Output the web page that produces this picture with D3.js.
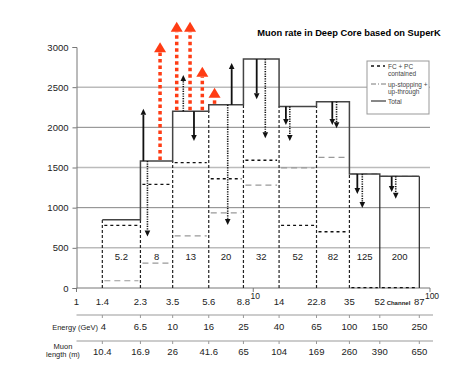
<!DOCTYPE html>
<html>
<head>
<meta charset="utf-8">
<title>Muon rate in Deep Core</title>
<style>
  body { margin: 0; background: #fff; }
  svg { display: block; font-family: "Liberation Sans", Arial, sans-serif; }
</style>
</head>
<body>
<script src="https://d3js.org/d3.v7.min.js"></script>
<script>
const width = 459;
const height = 378;

// bin edges in channel units, bin centre labels
const edges = [1.4, 2.3, 3.5, 5.6, 8.8, 14, 22.8, 35, 52, 87];
const binLabels = ['5.2', '8', '13', '20', '32', '52', '82', '125', '200'];

// series
const total = [850, 1580, 2200, 2280, 2850, 2260, 2320, 1420, 1390];
const contained = [780, 1290, 1560, 1360, 1590, 780, 700, 5, 5];
const upgoing = [90, 310, 650, 935, 1280, 1495, 1625, 1420, 1390];

// extra axis rows
const energyLabels = ['4', '6.5', '10', '16', '25', '40', '65', '100', '150', '250'];
const lengthLabels = ['10.4', '16.9', '26', '41.6', '65', '104', '169', '260', '390', '650'];
const yTicks = [0, 500, 1000, 1500, 2000, 2500, 3000];

// arrows: position (channel), from, to, kind
const arrows = [
  { x: 2.39, from: 1580, to: 2230, kind: 'solid' },
  { x: 2.52, from: 1580, to: 640, kind: 'dotted' },
  { x: 2.97, from: 1580, to: 3058, kind: 'red' },
  { x: 3.69, from: 2200, to: 3315, kind: 'red' },
  { x: 4.02, from: 2200, to: 2650, kind: 'dotted' },
  { x: 4.39, from: 2200, to: 3315, kind: 'red' },
  { x: 4.62, from: 2200, to: 1830, kind: 'solid' },
  { x: 5.15, from: 2200, to: 2755, kind: 'red' },
  { x: 6.04, from: 2280, to: 2493, kind: 'red' },
  { x: 7.17, from: 2280, to: 785, kind: 'dotted' },
  { x: 7.55, from: 2280, to: 2800, kind: 'solid' },
  { x: 10.46, from: 2850, to: 2350, kind: 'solid' },
  { x: 11.7, from: 2850, to: 1865, kind: 'dotted' },
  { x: 15.3, from: 2260, to: 2030, kind: 'solid' },
  { x: 16.1, from: 2260, to: 1830, kind: 'dotted' },
  { x: 28.0, from: 2320, to: 2030, kind: 'solid' },
  { x: 29.6, from: 2320, to: 1990, kind: 'dotted' },
  { x: 38.8, from: 1420, to: 1170, kind: 'solid' },
  { x: 41.4, from: 1420, to: 995, kind: 'dotted' },
  { x: 60.7, from: 1390, to: 1195, kind: 'solid' },
  { x: 64.0, from: 1390, to: 1110, kind: 'dotted' }
];

const x = d3.scaleLog().domain([1, 100]).range([76.5, 430]);
const y = d3.scaleLinear().domain([0, 3000]).range([288, 47]);

const svg = d3.select('body').append('svg')
  .attr('width', width)
  .attr('height', height);

// title
svg.append('text')
  .attr('x', 349).attr('y', 36)
  .attr('text-anchor', 'middle')
  .attr('font-size', 9.3)
  .attr('font-weight', 'bold')
  .text('Muon rate in Deep Core based on SuperK');

// gridlines
svg.append('g').selectAll('line')
  .data(yTicks.filter(d => d > 0 && d < 3000))
  .join('line')
  .attr('x1', x(1)).attr('x2', x(100))
  .attr('y1', d => y(d)).attr('y2', d => y(d))
  .attr('stroke', d => d % 1000 === 500 ? '#bbb' : '#666')
  .attr('stroke-width', d => d % 1000 === 500 ? 1.5 : 0.8);

// y axis
const yAxis = svg.append('g').attr('transform', `translate(${x(1)},0)`)
  .call(d3.axisLeft(y).tickValues(yTicks).tickFormat(d3.format('d')).tickSize(4).tickPadding(4));
yAxis.select('.domain').attr('stroke', '#777');
yAxis.selectAll('.tick line').attr('stroke', '#777');
yAxis.selectAll('text').attr('font-size', 9.5).attr('font-family', 'Liberation Sans, Arial, sans-serif').attr('fill', '#222');

// bottom axis
svg.append('line')
  .attr('x1', x(1)).attr('x2', x(100))
  .attr('y1', y(0)).attr('y2', y(0))
  .attr('stroke', '#777');
svg.append('g').selectAll('line')
  .data([1, 10, 100])
  .join('line')
  .attr('x1', d => x(d)).attr('x2', d => x(d))
  .attr('y1', y(0)).attr('y2', y(0) + 4)
  .attr('stroke', '#777');

const xl = svg.append('g').attr('font-size', 9.5).attr('fill', '#222').attr('text-anchor', 'middle');
xl.append('text').attr('x', x(1)).attr('y', 305).text('1');
xl.selectAll('text.edge')
  .data(edges.slice(0, -1))
  .join('text')
  .attr('class', 'edge')
  .attr('x', d => x(d)).attr('y', 305)
  .text(d => d);
xl.append('text').attr('x', x(10) + 2).attr('y', 299).attr('font-size', 8.5).text('10');
xl.append('text').attr('x', x(100) + 2).attr('y', 299).attr('font-size', 8.5).text('100');
xl.append('text').attr('x', x(87) - 9).attr('y', 305).attr('text-anchor', 'end')
  .attr('font-size', 6).attr('font-weight', 'bold').text('Channel');
xl.append('text').attr('x', x(87)).attr('y', 305).text(edges[edges.length - 1]);

// energy and length rows
const rowY = [315, 341];
rowY.forEach(ry => {
  svg.append('line')
    .attr('x1', x(1)).attr('x2', 433)
    .attr('y1', ry).attr('y2', ry)
    .attr('stroke', '#999');
  svg.append('g').selectAll('line')
    .data(edges)
    .join('line')
    .attr('x1', d => x(d)).attr('x2', d => x(d))
    .attr('y1', ry).attr('y2', ry + 3)
    .attr('stroke', '#999');
});
svg.append('text').attr('x', 98).attr('y', 330).attr('text-anchor', 'end')
  .attr('font-size', 7.5).attr('fill', '#222').text('Energy (GeV)');
svg.append('g').attr('font-size', 9.5).attr('fill', '#222').attr('text-anchor', 'middle')
  .selectAll('text')
  .data(energyLabels)
  .join('text')
  .attr('x', (d, i) => i === 0 ? x(edges[i]) + 1 : x(edges[i]))
  .attr('y', 330)
  .text(d => d);

svg.append('text').attr('x', 63).attr('y', 349).attr('text-anchor', 'middle')
  .attr('font-size', 7.5).attr('fill', '#222').text('Muon');
svg.append('text').attr('x', 63).attr('y', 357).attr('text-anchor', 'middle')
  .attr('font-size', 7.5).attr('fill', '#222').text('length (m)');
svg.append('g').attr('font-size', 9.5).attr('fill', '#222').attr('text-anchor', 'middle')
  .selectAll('text')
  .data(lengthLabels)
  .join('text')
  .attr('x', (d, i) => x(edges[i]))
  .attr('y', 355)
  .text(d => d);

// histogram tops
function tops(vals, cls, stroke, dash, sw) {
  svg.append('g').attr('class', cls).selectAll('line')
    .data(vals)
    .join('line')
    .attr('x1', (d, i) => x(edges[i]) + 2).attr('x2', (d, i) => x(edges[i + 1]) - 2)
    .attr('y1', d => y(d)).attr('y2', d => y(d))
    .attr('stroke', stroke)
    .attr('stroke-width', sw)
    .attr('stroke-dasharray', dash);
}
tops(upgoing, 'up', '#999', '6,4', 1.2);
tops(contained, 'fc', '#111', '3,3', 1.3);

// bin edge verticals (dashed where the contained histogram steps, else solid)
svg.append('g').selectAll('line')
  .data(edges)
  .join('line')
  .attr('x1', d => x(d)).attr('x2', d => x(d))
  .attr('y1', y(0))
  .attr('y2', (d, i) => {
    const l = i > 0 ? total[i - 1] : Infinity;
    const r = i < total.length ? total[i] : Infinity;
    return y(Math.min(l, r));
  })
  .attr('stroke', '#222')
  .attr('stroke-width', 1.2)
  .attr('stroke-dasharray', (d, i) => {
    const l = i > 0 ? contained[i - 1] : 0;
    const r = i < contained.length ? contained[i] : 0;
    return Math.max(l, r) > 20 ? '3,2' : null;
  });

// total step outline
const step = [];
total.forEach((v, i) => {
  step.push([x(edges[i]), y(v)]);
  step.push([x(edges[i + 1]), y(v)]);
});
svg.append('path')
  .attr('d', d3.line()(step))
  .attr('fill', 'none')
  .attr('stroke', '#444')
  .attr('stroke-width', 1.5);

// bin labels
svg.append('g').attr('font-size', 9.5).attr('fill', '#222').attr('text-anchor', 'middle')
  .selectAll('text')
  .data(binLabels)
  .join('text')
  .attr('x', (d, i) => (x(edges[i]) + x(edges[i + 1])) / 2)
  .attr('y', 260)
  .text(d => d);

// arrows
const ag = svg.append('g');
arrows.forEach(a => {
  const ax = x(a.x);
  const y0 = y(a.from);
  const y1 = y(a.to);
  const dir = y1 < y0 ? -1 : 1;
  if (a.kind === 'red') {
    const hh = 10, hw = 6;
    ag.append('line')
      .attr('x1', ax).attr('x2', ax)
      .attr('y1', y0 - 1).attr('y2', y1 + hh)
      .attr('stroke', '#ff3c14')
      .attr('stroke-width', 3.5)
      .attr('stroke-dasharray', '3.5,3');
    ag.append('path')
      .attr('d', `M${ax},${y1}L${ax + hw},${y1 + hh}L${ax - hw},${y1 + hh}Z`)
      .attr('fill', '#ff3c14');
  } else {
    const hh = 6, hw = 2.8;
    ag.append('line')
      .attr('x1', ax).attr('x2', ax)
      .attr('y1', y0).attr('y2', y1 - dir * hh)
      .attr('stroke', '#111')
      .attr('stroke-width', a.kind === 'solid' ? 1.8 : 1.6)
      .attr('stroke-dasharray', a.kind === 'solid' ? null : '1.2,1.2');
    ag.append('path')
      .attr('d', `M${ax},${y1}L${ax + hw},${y1 - dir * hh}L${ax - hw},${y1 - dir * hh}Z`)
      .attr('fill', '#111');
  }
});

// legend
const lg = svg.append('g').attr('transform', 'translate(367,61)');
lg.append('rect')
  .attr('width', 62).attr('height', 53)
  .attr('fill', '#fff')
  .attr('stroke', '#999');
lg.append('line').attr('x1', 4).attr('x2', 18).attr('y1', 5).attr('y2', 5)
  .attr('stroke', '#111').attr('stroke-width', 1.5).attr('stroke-dasharray', '3,3');
lg.append('line').attr('x1', 4).attr('x2', 19).attr('y1', 23).attr('y2', 23)
  .attr('stroke', '#555').attr('stroke-width', 0.8).attr('stroke-dasharray', '5,2,1,2');
lg.append('line').attr('x1', 4).attr('x2', 19).attr('y1', 40).attr('y2', 40)
  .attr('stroke', '#111').attr('stroke-width', 1);
const lt = lg.append('g').attr('font-size', 6.5).attr('fill', '#444');
[['FC + PC', 7.5], ['contained', 15], ['up-stopping +', 25.5], ['up-through', 32.5], ['Total', 42.5]]
  .forEach(([t, ty]) => lt.append('text').attr('x', 21).attr('y', ty).text(t));
</script>
</body>
</html>
